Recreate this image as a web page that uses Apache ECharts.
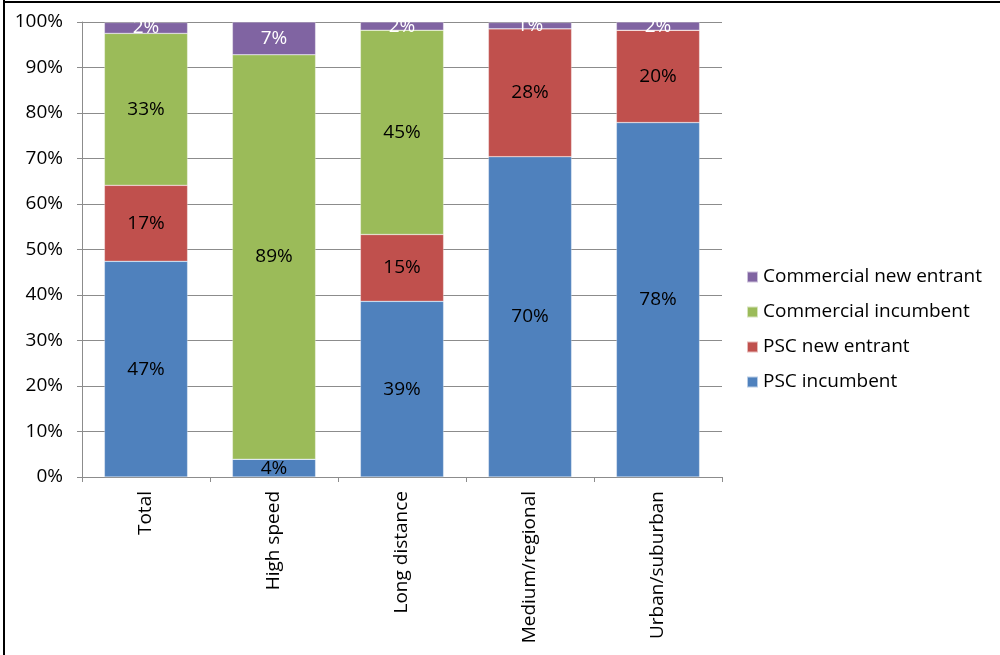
<!DOCTYPE html>
<html style="height: 100%">
<head>
	<meta charset="utf-8">
	<script src="https://cdn.jsdelivr.net/npm/echarts@6/dist/echarts.min.js"></script>
</head>
<body style="height: 100%; margin: 0; background: #fff">
	<div id="container" style="width: 1000px; height: 655px"></div>
	<script type="text/javascript">
		let categories = ['Total', 'High speed', 'Long distance', 'Medium/regional', 'Urban/suburban'];
		let pscIncumbent = [47.4, 3.9, 38.6, 70.4, 77.9];
		let pscNewEntrant = [16.7, 0, 14.7, 28.1, 20.3];
		let commercialIncumbent = [33.4, 88.9, 44.9, 0, 0];
		let commercialNewEntrant = [2.4, 7.2, 1.8, 1.4, 1.8];
		let yTicks = [0, 10, 20, 30, 40, 50, 60, 70, 80, 90, 100];

		let font = 'Open Sans';
		let fs = 19;
		let dom = document.getElementById('container');
		let myChart = echarts.init(dom);

		function makeSeries(name, data, color, labelColor) {
			return {
				name: name,
				type: 'bar',
				stack: 'share',
				data: data,
				barWidth: '65%',
				itemStyle: {
					color: color,
					borderColor: 'rgba(255,255,255,0.6)',
					borderWidth: 0.5
				},
				label: {
					show: true,
					position: 'inside',
					color: labelColor,
					fontFamily: font,
					fontSize: fs,
					formatter: function (p) {
						return p.value > 0 ? Math.round(p.value) + '%' : '';
					}
				},
				animation: false
			};
		}

		let option = {
			backgroundColor: '#fff',
			grid: {
				left: 82,
				right: 278,
				top: 22,
				bottom: 178
			},
			legend: {
				orient: 'vertical',
				left: 741,
				top: 262,
				itemWidth: 11,
				itemHeight: 11,
				itemGap: 15,
				icon: 'rect',
				textStyle: {
					fontFamily: font,
					fontSize: fs,
					color: '#000',
					lineHeight: 20
				},
				data: ['Commercial new entrant', 'Commercial incumbent', 'PSC new entrant', 'PSC incumbent']
			},
			xAxis: {
				type: 'category',
				data: categories,
				axisLine: { lineStyle: { color: '#8c8c8c' } },
				axisTick: { show: true, length: 5, lineStyle: { color: '#8c8c8c' } },
				axisLabel: {
					rotate: 90,
					margin: 14,
					color: '#000',
					fontFamily: font,
					fontSize: fs
				}
			},
			yAxis: {
				type: 'value',
				min: yTicks[0],
				max: yTicks[yTicks.length - 1],
				interval: yTicks[1] - yTicks[0],
				axisLine: { show: true, lineStyle: { color: '#8c8c8c' } },
				axisTick: { show: true, length: 5, lineStyle: { color: '#8c8c8c' } },
				splitLine: { lineStyle: { color: '#8c8c8c' } },
				axisLabel: {
					margin: 19,
					color: '#000',
					fontFamily: font,
					fontSize: fs,
					formatter: '{value}%'
				}
			},
			graphic: [
				{ type: 'rect', left: 3, top: 0, shape: { width: 2, height: 655 }, style: { fill: '#000' } },
				{ type: 'rect', left: 3, top: 1, shape: { width: 997, height: 2 }, style: { fill: '#000' } }
			],
			series: [
				makeSeries('PSC incumbent', pscIncumbent, '#4F81BD', '#000'),
				makeSeries('PSC new entrant', pscNewEntrant, '#C0504D', '#000'),
				makeSeries('Commercial incumbent', commercialIncumbent, '#9BBB59', '#000'),
				makeSeries('Commercial new entrant', commercialNewEntrant, '#8064A2', '#fff')
			]
		};

		myChart.setOption(option);
	</script>
</body>
</html>
